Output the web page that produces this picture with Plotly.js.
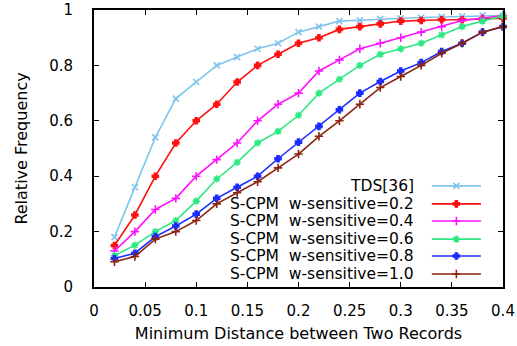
<!DOCTYPE html>
<html>
<head>
<meta charset="utf-8">
<script src="https://cdn.plot.ly/plotly-3.0.1.min.js"></script>
<style>html,body{margin:0;padding:0;background:#fff;}#chart{width:517px;height:346px;}</style>
</head>
<body>
<div id="chart"></div>
<script>
// ---- data ----
const distance = [0.02,0.04,0.06,0.08,0.10,0.12,0.14,0.16,0.18,0.20,0.22,0.24,0.26,0.28,0.30,0.32,0.34,0.36,0.38,0.40];
const tds  = [0.18,0.36,0.54,0.68,0.74,0.80,0.83,0.86,0.88,0.92,0.94,0.96,0.963,0.967,0.97,0.973,0.975,0.977,0.98,0.98];
const w02  = [0.15,0.26,0.40,0.52,0.60,0.66,0.74,0.80,0.84,0.88,0.90,0.93,0.94,0.95,0.96,0.962,0.965,0.965,0.967,0.97];
const w04  = [0.13,0.20,0.28,0.32,0.40,0.46,0.52,0.60,0.66,0.70,0.78,0.82,0.86,0.88,0.90,0.92,0.94,0.962,0.97,0.98];
const w06  = [0.113,0.151,0.20,0.24,0.31,0.39,0.45,0.52,0.562,0.62,0.70,0.75,0.80,0.84,0.86,0.88,0.91,0.94,0.96,0.978];
const w08  = [0.103,0.122,0.182,0.22,0.263,0.32,0.36,0.40,0.463,0.523,0.58,0.64,0.70,0.742,0.78,0.81,0.85,0.88,0.92,0.94];
const w10  = [0.091,0.11,0.173,0.20,0.24,0.30,0.34,0.38,0.43,0.48,0.544,0.60,0.66,0.72,0.76,0.80,0.844,0.88,0.92,0.94];
const seriesNames = ["TDS[36]", "S-CPM\u00a0\u00a0w-sensitive=0.2", "S-CPM\u00a0\u00a0w-sensitive=0.4",
                     "S-CPM\u00a0\u00a0w-sensitive=0.6", "S-CPM\u00a0\u00a0w-sensitive=0.8", "S-CPM\u00a0\u00a0w-sensitive=1.0"];
const xTickVals = [0,0.05,0.1,0.15,0.2,0.25,0.3,0.35,0.4];
const xTickText = ["0","0.05","0.1","0.15","0.2","0.25","0.3","0.35","0.4"];
const yTickVals = [0,0.2,0.4,0.6,0.8,1];
const yTickText = ["0","0.2","0.4","0.6","0.8","1"];

// ---- styles ----
const seriesValues = [tds, w02, w04, w06, w08, w10];
const colors = ["#80c4ec", "#ff1010", "#ff10ff", "#2ee882", "#1a2cff", "#8b2410"];
const symbols = ["x-thin-open", "cross", "cross-thin-open", "asterisk-open", "cross", "cross-thin-open"];
const msizes = [6, 5, 6, 6, 5, 6];
const FONT = "DejaVu Sans, Liberation Sans, Arial, sans-serif";

const traces = seriesValues.map((vals, i) => ({
  type: "scatter", mode: "lines+markers",
  x: distance, y: vals, name: seriesNames[i],
  line: {color: colors[i], width: 1.6},
  marker: {symbol: symbols[i], size: msizes[i], color: colors[i], line: {color: colors[i], width: 1.6}},
  showlegend: false, cliponaxis: false
}));

// legend (gnuplot style: right-aligned text, sample on the right)
const legRowY = [0.365, 0.300, 0.238, 0.173, 0.112, 0.047];
const legTextX = 0.785, legX0 = 0.826, legX1 = 0.946, legXm = 0.886;
const annotations = [];
seriesNames.forEach((nm, i) => {
  annotations.push({xref: "paper", yref: "paper", x: legTextX, y: legRowY[i], xanchor: "right", yanchor: "middle",
    text: nm, showarrow: false, height: 16, borderpad: 0,
    font: {family: FONT, size: 15.5, color: "#000"}});
  traces.push({type: "scatter", mode: "lines", xaxis: "x2", yaxis: "y2",
    x: [legX0, legX1], y: [legRowY[i], legRowY[i]], line: {color: colors[i], width: 1.6},
    showlegend: false, hoverinfo: "skip"});
  traces.push({type: "scatter", mode: "markers", xaxis: "x2", yaxis: "y2",
    x: [legXm], y: [legRowY[i]],
    marker: {symbol: symbols[i], size: msizes[i], color: colors[i], line: {color: colors[i], width: 1.6}},
    showlegend: false, hoverinfo: "skip"});
});

const layout = {
  width: 517, height: 346,
  margin: {l: 94, r: 14, t: 10, b: 59},
  paper_bgcolor: "#fff", plot_bgcolor: "#fff",
  font: {family: FONT, size: 15, color: "#000"},
  xaxis: {
    range: [0, 0.4], tickvals: xTickVals, ticktext: xTickText,
    ticks: "inside", ticklen: 5, tickwidth: 1, tickcolor: "#000",
    showline: true, linecolor: "#000", linewidth: 2, mirror: "ticks",
    showgrid: false, zeroline: false,
    tickfont: {family: FONT, size: 15, color: "#000"},
    ticklabelstandoff: 9,
    title: {text: "Minimum Distance between Two Records", font: {family: FONT, size: 16, color: "#000"}, standoff: 9},
    automargin: false
  },
  yaxis: {
    range: [0, 1], tickvals: yTickVals, ticktext: yTickText,
    ticks: "inside", ticklen: 5, tickwidth: 1, tickcolor: "#000",
    showline: true, linecolor: "#000", linewidth: 2, mirror: "ticks",
    showgrid: false, zeroline: false,
    tickfont: {family: FONT, size: 15, color: "#000"},
    ticklabelstandoff: 16,
    title: {text: "Relative Frequency", font: {family: FONT, size: 16, color: "#000"}, standoff: 18},
    automargin: false
  },
  xaxis2: {overlaying: "x", range: [0, 1], visible: false, fixedrange: true},
  yaxis2: {overlaying: "y", range: [0, 1], visible: false, fixedrange: true},
  annotations: annotations,
  showlegend: false
};

Plotly.newPlot("chart", traces, layout, {staticPlot: true, displayModeBar: false});
</script>
</body>
</html>
